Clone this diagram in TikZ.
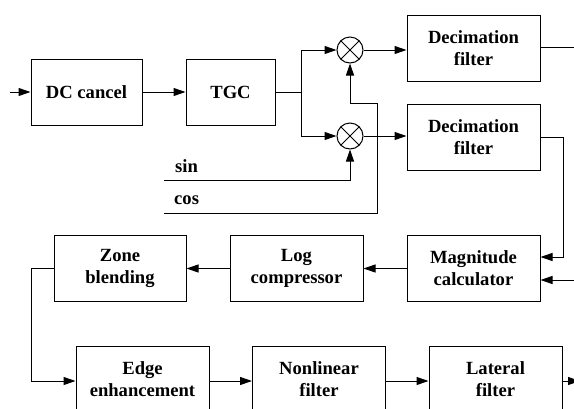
\documentclass[tikz,border=0pt]{standalone}
\usepackage{fontspec}
\setmainfont{Liberation Serif}
\usetikzlibrary{arrows.meta}
\begin{document}
\begin{tikzpicture}[x=1pt,y=-1pt,
  blk/.style={draw, line width=1pt, minimum width=133pt, minimum height=66pt,
    align=center, inner sep=2pt, font=\bfseries\fontsize{18.6}{22}\selectfont},
  lbl/.style={inner sep=0pt, font=\bfseries\fontsize{18.6}{22}\selectfont},
  mix/.style={draw, circle, line width=1pt, minimum size=26pt, inner sep=0pt,
    path picture={\draw[line width=1pt]
      (path picture bounding box.north west) -- (path picture bounding box.south east)
      (path picture bounding box.north east) -- (path picture bounding box.south west);}},
  wire/.style={line width=1pt},
  arr/.style={line width=1pt, -{Triangle[length=12pt,width=8pt]}}]
\clip (0,0) rectangle (574,408);

\node[blk, minimum width=111pt] (dc) at (86.5,92) {DC cancel};
\node[blk, minimum width=89pt] (tgc) at (230.5,92) {TGC};
\node[mix] (mixA) at (350,50) {};
\node[mix] (mixB) at (350,136) {};
\node[blk] (decA) at (473.5,48) {Decimation\\filter};
\node[blk] (decB) at (473.5,137) {Decimation\\filter};
\node[blk] (mag) at (473.5,268.5) {Magnitude\\calculator};
\node[blk] (logc) at (296.5,268.5) {Log\\compressor};
\node[blk, minimum width=132pt] (zone) at (120,268.5) {Zone\\blending};
\node[blk] (edge) at (142.5,379) {Edge\\enhancement};
\node[blk] (nonlin) at (319,379) {Nonlinear\\filter};
\node[blk] (lateral) at (495.5,379) {Lateral\\filter};
\node[lbl, anchor=base west] (sinlbl) at (175,172) {sin};
\node[lbl, anchor=base west] (coslbl) at (174,204) {cos};

\coordinate (in) at (10,92);
\coordinate (split) at (301,92);
\coordinate (sinin) at (164,180);
\coordinate (cosin) at (164,213);
\coordinate (cosup) at (377,103);
\coordinate (outA) at (580,47);
\coordinate (magin) at (580,280);
\coordinate (out) at (580,381);

\draw[arr] (in) -- (dc);
\draw[arr] (dc) -- (tgc);
\draw[wire] (tgc.east) -- (split);
\draw[arr] (split) |- (mixA.west);
\draw[arr] (split) |- (mixB.west);
\draw[arr] (mixA) -- (mixA -| decA.west);
\draw[arr] (mixB) -- (mixB -| decB.west);
\draw[arr] (sinin) -| (mixB.south);
\draw[arr] (cosin) -| (cosup) -| (mixA.south);
\draw[wire] (decA.east |- outA) -- (outA);
\draw[arr] (decB.east) -- ++(23,0) |- ([yshift=11.5pt]mag.east);
\draw[arr] (magin) -- (magin -| mag.east);
\draw[arr] (mag) -- (logc);
\draw[arr] (logc) -- (zone);
\draw[arr] (zone.west) -- ++(-22,0) |- ([yshift=-2pt]edge.west);
\draw[arr] ([yshift=-2pt]edge.east) -- ([yshift=-2pt]nonlin.west);
\draw[arr] ([yshift=-2pt]nonlin.east) -- ([yshift=-2pt]lateral.west);
\draw[arr] ([yshift=-2pt]lateral.east) -- (out);
\end{tikzpicture}
\end{document}
